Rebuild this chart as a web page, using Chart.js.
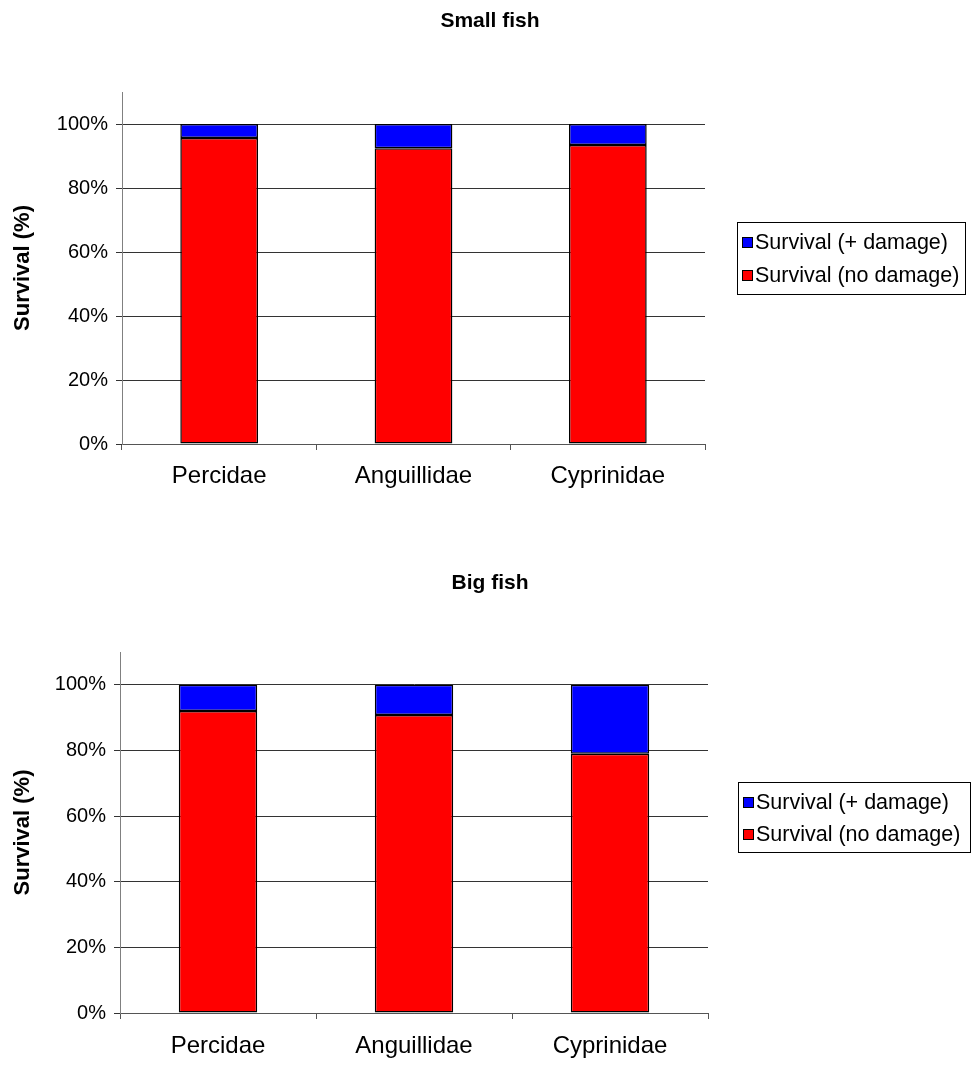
<!DOCTYPE html>
<html>
<head>
<meta charset="utf-8">
<title>Fish survival</title>
<script src="https://cdn.jsdelivr.net/npm/chart.js@4/dist/chart.umd.min.js"></script>
<style>
  html, body { margin: 0; padding: 0; background: #fff; }
  canvas { display: block; }
</style>
</head>
<body>
<canvas id="smallFish" width="980" height="560"></canvas>
<canvas id="bigFish" width="980" height="524"></canvas>
<script>
// Fish families on the x axis
const categories = ['Percidae', 'Anguillidae', 'Cyprinidae'];
const seriesNames = ['Survival (no damage)', 'Survival (+ damage)'];

// Small fish: share surviving undamaged / surviving with damage (%)
const smallNoDamage = [95.6, 92.4, 93.4];
const smallDamage = [4.4, 7.6, 6.6];

// Big fish
const bigNoDamage = [92.0, 90.8, 79.0];
const bigDamage = [8.0, 9.2, 21.0];

const yTicks = [0, 20, 40, 60, 80, 100];

const FONT = "'Liberation Sans', Arial, sans-serif";
const RED = '#FF0000';
const BLUE = '#0000FF';

// Heading centred on the whole canvas, above the plot
const pageTitle = {
  id: 'pageTitle',
  afterDraw(chart, args, opts) {
    const ctx = chart.ctx;
    ctx.save();
    ctx.font = 'bold ' + opts.fontSize + 'px ' + FONT;
    ctx.fillStyle = '#000';
    ctx.textAlign = 'center';
    ctx.textBaseline = 'middle';
    ctx.fillText(opts.text, chart.width / 2, opts.y);
    ctx.restore();
  }
};

// Boxed legend on the right, listing the top stack segment first
const boxLegend = {
  id: 'boxLegend',
  afterDraw(chart, args, opts) {
    const ctx = chart.ctx;
    const items = chart.data.datasets.slice().reverse();
    ctx.save();
    ctx.fillStyle = '#fff';
    ctx.fillRect(opts.x, opts.y, opts.w, opts.h);
    ctx.strokeStyle = '#000';
    ctx.lineWidth = 1;
    ctx.strokeRect(opts.x + 0.5, opts.y + 0.5, opts.w, opts.h);
    ctx.font = opts.fontSize + 'px ' + FONT;
    ctx.textBaseline = 'middle';
    ctx.textAlign = 'left';
    items.forEach((ds, i) => {
      const cy = opts.y + opts.rows[i];
      ctx.fillStyle = ds.backgroundColor;
      ctx.fillRect(opts.x + 5, cy - 5, 10, 10);
      ctx.strokeStyle = '#000';
      ctx.strokeRect(opts.x + 5.5, cy - 4.5, 10, 10);
      ctx.fillStyle = '#000';
      ctx.fillText(ds.label, opts.x + 18, cy + 1);
    });
    ctx.restore();
  }
};

function makeChart(canvasId, title, noDamage, damage, geo) {
  return new Chart(document.getElementById(canvasId), {
    type: 'bar',
    data: {
      labels: categories,
      datasets: [
        { label: seriesNames[0], data: noDamage, backgroundColor: RED,
          borderColor: '#000', borderWidth: 1.5, borderSkipped: false },
        { label: seriesNames[1], data: damage, backgroundColor: BLUE,
          borderColor: '#000', borderWidth: 1.5, borderSkipped: false }
      ]
    },
    options: {
      responsive: false,
      animation: false,
      events: [],
      layout: { padding: { left: geo.padLeft, right: geo.padRight, top: 92, bottom: 0 } },
      datasets: { bar: { categoryPercentage: 1.0, barPercentage: 0.4 } },
      plugins: {
        legend: { display: false },
        tooltip: { enabled: false },
        title: { display: false },
        pageTitle: { text: title, y: geo.titleY, fontSize: 21 },
        boxLegend: geo.legend
      },
      scales: {
        x: {
          stacked: true,
          offset: true,
          afterFit(scale) { scale.height = geo.xHeight; },
          grid: { display: true, offset: true, drawOnChartArea: false, drawTicks: true,
                  tickLength: 6, color: '#555' },
          border: { display: true, color: '#555', width: 1 },
          ticks: { color: '#000', padding: geo.xPad, font: { family: FONT, size: 24 }, maxRotation: 0 }
        },
        y: {
          stacked: true,
          min: 0,
          max: 110,
          afterFit(scale) { scale.width = geo.yWidth; },
          afterBuildTicks(scale) { scale.ticks = yTicks.map(v => ({ value: v })); },
          grid: { color: '#333', tickLength: 6, drawTicks: true },
          border: { display: true, color: '#808080', width: 1 },
          ticks: {
            color: '#000', padding: 8, includeBounds: false,
            font: { family: FONT, size: 20 },
            callback: v => v + '%'
          },
          title: {
            display: true,
            text: 'Survival (%)',
            color: '#000',
            font: { family: FONT, size: 22, weight: 'bold', lineHeight: 1.2 },
            padding: { top: 2, bottom: 4 }
          }
        }
      }
    },
    plugins: [pageTitle, boxLegend]
  });
}

makeChart('smallFish', 'Small fish', smallNoDamage, smallDamage, {
  padLeft: 8, padRight: 275, yWidth: 114, xHeight: 116, xPad: 12, titleY: 21,
  legend: { x: 737, y: 222, w: 228, h: 72, rows: [20, 53], fontSize: 21.5 }
});

makeChart('bigFish', 'Big fish', bigNoDamage, bigDamage, {
  padLeft: 8, padRight: 272, yWidth: 112, xHeight: 71, xPad: 13, titleY: 23,
  legend: { x: 738, y: 222, w: 232, h: 70, rows: [20, 52], fontSize: 21.5 }
});
</script>
</body>
</html>
